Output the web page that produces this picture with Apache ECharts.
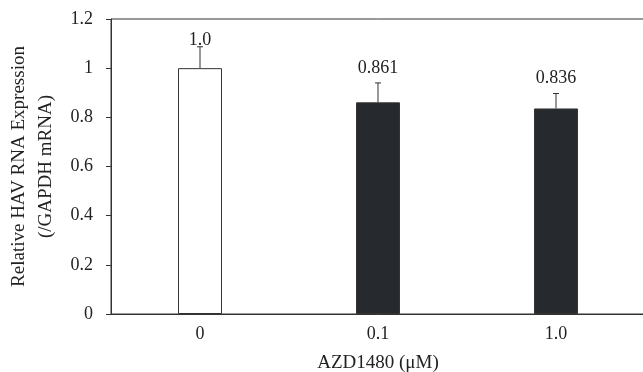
<!DOCTYPE html>
<html>
<head>
<meta charset="utf-8">
<script src="https://cdn.jsdelivr.net/npm/echarts@6/dist/echarts.min.js"></script>
<style>html,body{margin:0;padding:0;background:#fff}#c{width:643px;height:372px}</style>
</head>
<body>
<div id="c"></div>
<script>
var categories = ['0', '0.1', '1.0'];
var values = [1.0, 0.861, 0.836];
var errors = [0.087, 0.079, 0.061];
var valueLabels = ['1.0', '0.861', '0.836'];
var labelLevels = [1.114, 1.0, 0.959];
var yTicks = { min: 0, max: 1.2, interval: 0.2 };
var barColors = ['#ffffff', '#262a2f', '#262a2f'];

var font = '"Liberation Serif", "DejaVu Serif", serif';
var chart = echarts.init(document.getElementById('c'));
chart.setOption({
  animation: false,
  backgroundColor: '#ffffff',
  grid: { left: 111, right: -2, top: 19, bottom: 58, containLabel: false, outerBoundsMode: 'none', show: true, borderColor: '#333', borderWidth: 1, backgroundColor: 'transparent' },
  xAxis: {
    type: 'category',
    data: categories,
    axisLine: { lineStyle: { color: '#333', width: 1 } },
    axisTick: { show: false },
    axisLabel: { color: '#222', fontFamily: font, fontSize: 18, margin: 11 },
    name: 'AZD1480 (μM)',
    nameLocation: 'middle',
    nameGap: 40,
    nameTextStyle: { color: '#222', fontFamily: font, fontSize: 19 }
  },
  yAxis: {
    type: 'value',
    min: yTicks.min, max: yTicks.max, interval: yTicks.interval,
    axisLine: { show: true, lineStyle: { color: '#333', width: 1 } },
    axisTick: { show: true, length: 5, lineStyle: { color: '#333' } },
    splitLine: { show: false },
    axisLabel: { color: '#222', fontFamily: font, fontSize: 18, margin: 18 },
    name: 'Relative HAV RNA Expression\n(/GAPDH mRNA)',
    nameLocation: 'middle',
    nameGap: 46,
    nameTextStyle: { color: '#222', fontFamily: font, fontSize: 19, lineHeight: 27 }
  },
  series: [
    {
      type: 'bar',
      data: values.map(function (v, i) {
        return { value: v, itemStyle: { color: barColors[i], borderColor: '#333', borderWidth: 1 } };
      }),
      barWidth: 44
    },
    {
      type: 'custom',
      data: values.map(function (v, i) { return [i, v, errors[i], labelLevels[i]]; }),
      renderItem: function (params, api) {
        var i = api.value(0);
        var top = api.coord([i, api.value(1)]);
        var up = api.coord([i, api.value(1) + api.value(2)]);
        var lab = api.coord([i, api.value(3)]);
        return {
          type: 'group',
          children: [
            { type: 'line', shape: { x1: top[0], y1: top[1], x2: up[0], y2: up[1] }, style: { stroke: '#333', lineWidth: 1 } },
            { type: 'line', shape: { x1: up[0] - 3, y1: up[1], x2: up[0] + 3, y2: up[1] }, style: { stroke: '#333', lineWidth: 1 } },
            { type: 'text', x: lab[0], y: lab[1], style: { text: valueLabels[params.dataIndex], fill: '#222', font: '18px ' + font, align: 'center', verticalAlign: 'middle' } }
          ]
        };
      },
      z: 5
    }
  ]
});
</script>
</body>
</html>
